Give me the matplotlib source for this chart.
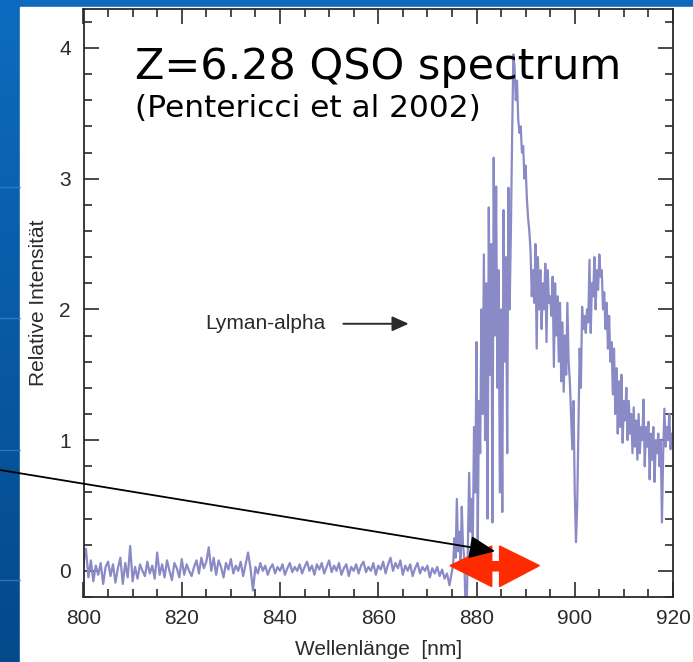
import numpy as np
import matplotlib
matplotlib.use("Agg")
import matplotlib.pyplot as plt
from matplotlib.patches import Polygon, Rectangle
from matplotlib.ticker import MultipleLocator

# spectrum; blue side every 0.5 nm, red side every 0.25 nm
wl_blue = np.arange(800.0, 875.01, 0.5)
flux_blue = [
    0.05, 0.17, -0.05, 0.08, -0.08, 0.04, -0.03, 0.06, -0.10, 0.03,   # 800
    0.07, -0.04, 0.05, -0.09, 0.02, 0.10, -0.10, 0.06, -0.05, 0.19,   # 805
    -0.08, 0.03, -0.06, 0.05, 0.00, -0.04, 0.07, -0.02, 0.04, -0.06,  # 810
    0.14, -0.03, 0.05, -0.05, 0.08, 0.00, -0.07, 0.06, 0.02, -0.05,   # 815
    0.09, -0.03, 0.05, 0.00, -0.04, 0.03, 0.08, -0.02, 0.10, 0.02,    # 820
    0.07, 0.18, 0.00, 0.10, -0.03, 0.08, 0.03, -0.05, 0.06, 0.01,     # 825
    0.09, -0.02, 0.04, 0.00, 0.07, -0.04, 0.05, 0.14, 0.02, -0.15,    # 830
    0.03, -0.02, 0.06, 0.00, 0.04, -0.03, 0.02, 0.05, -0.02, 0.03,    # 835
    0.00, 0.05, -0.03, 0.02, 0.06, -0.01, 0.03, 0.00, 0.05, -0.02,    # 840
    0.03, 0.07, 0.00, 0.04, -0.03, 0.05, 0.01, 0.06, -0.02, 0.03,     # 845
    0.08, -0.01, 0.04, 0.00, 0.06, -0.03, 0.02, 0.05, -0.04, 0.03,    # 850
    0.00, 0.05, -0.02, 0.04, 0.07, -0.01, 0.03, 0.00, 0.06, -0.03,    # 855
    0.04, 0.01, 0.07, -0.02, 0.05, 0.10, 0.00, 0.06, 0.02, 0.08,      # 860
    -0.03, 0.04, 0.00, 0.05, -0.04, 0.02, 0.06, -0.02, 0.03, 0.00,    # 865
    0.04, -0.05, 0.02, -0.02, 0.03, -0.04, 0.01, -0.06, -0.02, -0.11, # 870
    0.00,
]
wl_red = np.arange(875.25, 920.01, 0.25)
flux_red = [
    0.05, 0.25, 0.10,              # 875.25
    0.55, 0.15, 0.30, 0.05,        # 876
    0.49, 0.20, 0.10, -0.25,
    -0.30, 0.20, 0.75, 0.30,       # 878
    0.55, 0.24, 1.10, 0.60,
    1.75, 0.17, 1.30, 0.90,        # 880
    2.00, 1.20, 2.42, 1.00,
    2.20, 0.40, 2.78, 1.50,
    2.50, 0.37, 3.16, 1.80,
    2.94, 1.40, 2.30, 0.60,
    2.00, 0.45, 2.76, 1.60,        # 885
    2.40, 0.90, 2.93, 2.00,
    2.60, 3.32, 3.95, 3.85,
    3.60, 3.75, 3.45, 3.35,
    3.40, 3.20, 3.25, 3.00,
    3.10, 2.85, 2.70, 2.60,        # 890
    2.45, 2.10, 2.30, 2.05,
    2.50, 1.70, 2.40, 2.00,
    2.30, 1.85, 2.20, 2.00,
    2.35, 1.75, 2.30, 2.05,
    2.10, 1.95, 2.25, 1.56,        # 895
    2.20, 1.80, 2.10, 1.60,
    2.05, 1.45, 1.90, 1.37,
    1.80, 1.50, 2.05, 1.60,
    1.45, 1.20, 0.93, 1.30,
    0.60, 0.22, 0.50, 1.08,        # 900
    1.70, 1.40, 2.02, 1.85,
    1.95, 1.82, 2.00, 1.90,
    2.38, 1.82, 2.20, 2.10,
    2.40, 2.00, 2.30, 2.15,
    2.42, 2.25, 2.30, 2.00,        # 905
    2.13, 1.85, 2.05, 1.70,
    1.95, 1.60, 1.75, 1.35,
    1.70, 1.20, 1.55, 1.05,
    1.45, 1.10, 1.50, 0.98,
    1.30, 1.15, 1.40, 1.00,        # 910
    1.30, 1.05, 1.20, 0.90,
    1.25, 0.95, 1.15, 0.85,
    1.20, 0.90, 1.10, 1.00,
    1.31, 0.80, 1.10, 0.95,
    1.14, 0.70, 1.05, 0.85,        # 915
    1.10, 0.68, 1.00, 0.90,
    1.05, 0.80, 1.00, 0.37,
    0.90, 1.24, 0.95, 1.10,
    1.00, 1.20, 0.93, 1.05,
    1.00,                          # 920
]
wl = np.concatenate([wl_blue, wl_red])
flux = np.concatenate([flux_blue, flux_red])

W, H = 693, 662
LINE = "#8a8ac6"
INK = "#2a2a2a"
RED = "#ff2a00"
SANS = ["Liberation Sans", "DejaVu Sans"]

fig = plt.figure(figsize=(W / 100, H / 100), dpi=100)

# slide background: blue gradient, white panel holding the plot
bg = fig.add_axes([0, 0, 1, 1], zorder=-10)
grad = np.linspace(0, 1, 256)[:, None]
cmap = matplotlib.colors.LinearSegmentedColormap.from_list("slide", ["#0d6bbf", "#04498a"])
bg.imshow(grad, aspect="auto", cmap=cmap, extent=[0, W, 0, H], origin="upper")
bg.add_patch(Rectangle((20, 0), W - 20, H - 7, color="white"))
for yy in (187, 318, 450, 580):
    bg.plot([0, 20], [H - yy, H - yy], color="#3a86cf", lw=1, alpha=0.7)
bg.set_xlim(0, W); bg.set_ylim(0, H); bg.axis("off")

ax = fig.add_axes([83.5 / W, 65 / H, (673 - 83.5) / W, (597 - 8.7) / H])
ax.plot(wl, flux, color=LINE, lw=1.6)
ax.set_xlim(800, 920)
ax.set_ylim(-0.2, 4.3)

ax.xaxis.set_major_locator(MultipleLocator(20))
ax.xaxis.set_minor_locator(MultipleLocator(5))
ax.yaxis.set_major_locator(MultipleLocator(1))
ax.yaxis.set_minor_locator(MultipleLocator(0.2))
ax.tick_params(which="both", direction="in", top=True, right=True, color=INK, width=1.2)
ax.tick_params(which="major", length=11, labelsize=15, labelcolor=INK, pad=9)
ax.tick_params(which="minor", length=5.5)
for lab in ax.get_xticklabels() + ax.get_yticklabels():
    lab.set_family(SANS)
for s in ax.spines.values():
    s.set_color(INK); s.set_linewidth(1.3)

ax.set_xlabel("Wellenlänge  [nm]", fontsize=15, color=INK, family=SANS, labelpad=8)
ax.set_ylabel("Relative Intensität", fontsize=15, color=INK, family=SANS, labelpad=8)

ax.text(810.5, 3.76, "Z=6.28 QSO spectrum", fontsize=31, family="DejaVu Sans",
        color="black", va="baseline")
ax.text(810.5, 3.47, "(Pentericci et al 2002)", fontsize=22.5, family="DejaVu Sans",
        color="black", va="baseline")

ax.text(824.8, 1.89, "Lyman-alpha", fontsize=15, family=SANS, color=INK, va="center")
ax.annotate("", xy=(866.2, 1.89), xytext=(852.9, 1.89),
            arrowprops=dict(arrowstyle="-|>,head_length=1.0,head_width=0.45",
                            mutation_scale=10, lw=1.4, color=INK, shrinkA=0, shrinkB=0))

# red double arrow marking the absorption edge
arrow_pts = [(874.6, 0.04), (883.1, 0.19), (883.1, 0.07), (884.7, 0.07), (884.7, 0.19),
             (892.8, 0.04), (884.7, -0.12), (884.7, 0.0), (883.1, 0.0), (883.1, -0.12)]
ax.add_patch(Polygon(arrow_pts, closed=True, color=RED, zorder=5))

# pointer coming in from the left edge of the slide
an = ax.annotate("", xy=(883.8, 0.15), xytext=(0, H - 470), textcoords="figure pixels",
                 annotation_clip=False,
                 arrowprops=dict(arrowstyle="-|>,head_length=0.8,head_width=0.35",
                                 mutation_scale=20, lw=1.3, color="black",
                                 shrinkA=0, shrinkB=0))
an.set_clip_on(False)
an.set_zorder(6)

fig.savefig("out.png", dpi=100)
